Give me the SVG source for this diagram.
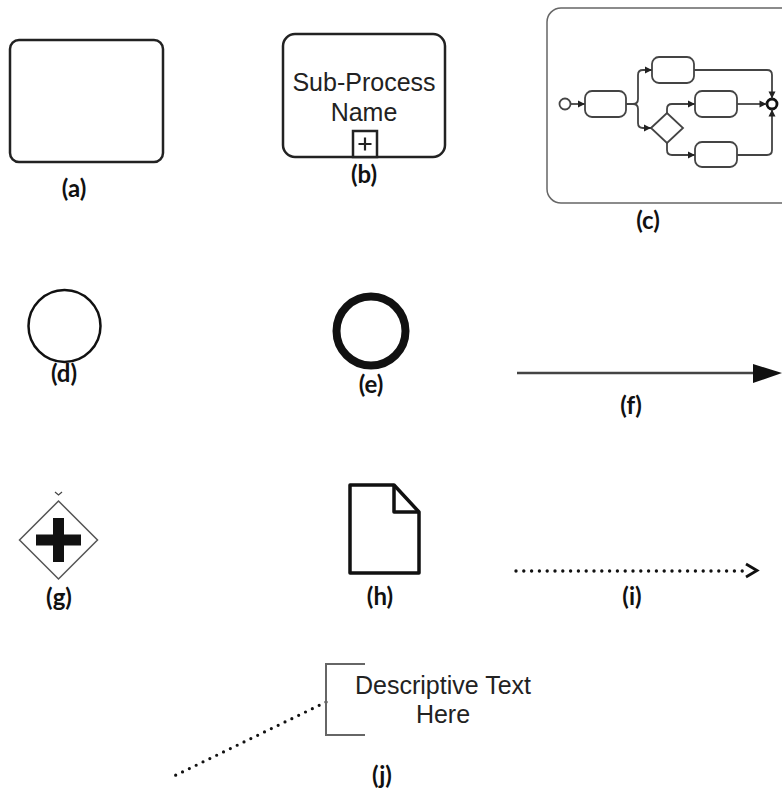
<svg xmlns="http://www.w3.org/2000/svg" width="782" height="795" viewBox="0 0 782 795">
<style>
.lbl{font-family:Lato,"Open Sans",sans-serif;font-weight:700;font-size:24px;fill:#111;text-anchor:middle}
.txt{font-family:"Liberation Sans",Arial,sans-serif;font-size:25px;fill:#222;text-anchor:middle}
.mini{fill:#fff;stroke:#444;stroke-width:1.8}
.flow{fill:none;stroke:#444;stroke-width:1.8}
</style>
<defs>
<marker id="ah" markerUnits="userSpaceOnUse" markerWidth="9" markerHeight="9" viewBox="0 0 9 9" refX="8" refY="4.5" orient="auto">
<path d="M1,1 L8,4.5 L1,8 Z" fill="#222"/>
</marker>
</defs>
<rect width="782" height="795" fill="#fff"/>

<g id="a">
<rect x="10" y="40" width="153" height="122" rx="9" fill="#fff" stroke="#222" stroke-width="2.5"/>
<text class="lbl" x="74" y="197">(a)</text>
</g>

<g id="b">
<rect x="283" y="34" width="162" height="123" rx="12" fill="#fff" stroke="#222" stroke-width="2.5"/>
<text class="txt" x="364" y="91">Sub-Process</text>
<text class="txt" x="364" y="121">Name</text>
<rect x="353" y="131" width="24" height="26" fill="#fff" stroke="#222" stroke-width="2.5"/>
<path d="M358.5,144 H371.5 M365,137.5 V150.5" stroke="#222" stroke-width="2.2"/>
<text class="lbl" x="364" y="183">(b)</text>
</g>

<g id="c">
<rect x="547" y="8" width="250" height="195" rx="14" fill="#fff" stroke="#666" stroke-width="1.5"/>
<circle cx="565" cy="104" r="5.5" class="mini"/>
<rect x="585" y="91" width="41" height="26" rx="7" class="mini"/>
<rect x="652" y="57" width="42" height="26" rx="7" class="mini"/>
<rect x="695" y="91" width="42" height="26" rx="7" class="mini"/>
<rect x="695" y="142" width="42" height="25" rx="7" class="mini"/>
<polygon points="651,128 667,113 683,128 667,143" class="mini"/>
<circle cx="772" cy="104" r="5" fill="#fff" stroke="#111" stroke-width="2.8"/>
<g class="flow">
<path d="M571,104 H585" marker-end="url(#ah)"/>
<path d="M626,104 H633 Q638,104 638,99 V75 Q638,70 643,70 H652" marker-end="url(#ah)"/>
<path d="M626,104 H633 Q638,104 638,109 V123 Q638,128 643,128 H651" marker-end="url(#ah)"/>
<path d="M667,113 V109 Q667,104 672,104 H695" marker-end="url(#ah)"/>
<path d="M667,143 V150 Q667,155 672,155 H695" marker-end="url(#ah)"/>
<path d="M694,70 H767 Q772,70 772,75 V98.5" marker-end="url(#ah)"/>
<path d="M737,104 H766.5" marker-end="url(#ah)"/>
<path d="M737,155 H767 Q772,155 772,150 V109.5" marker-end="url(#ah)"/>
</g>
<text class="lbl" x="648" y="229">(c)</text>
</g>

<g id="d">
<circle cx="64.5" cy="326" r="36" fill="#fff" stroke="#111" stroke-width="2.5"/>
<text class="lbl" x="64" y="382">(d)</text>
</g>

<g id="e">
<circle cx="371" cy="331" r="34.5" fill="#fff" stroke="#111" stroke-width="8"/>
<text class="lbl" x="371" y="393">(e)</text>
</g>

<g id="f">
<path d="M517,373 H756" stroke="#444" stroke-width="2.5"/>
<polygon points="753,364 782,373 753,383" fill="#111"/>
<text class="lbl" x="631" y="414">(f)</text>
</g>

<g id="g">
<path d="M55,492 L58.5,495 L62,492" fill="none" stroke="#444" stroke-width="1.2"/>
<polygon points="19.5,540 58.5,501 97.5,540 58.5,579" fill="#fff" stroke="#555" stroke-width="1.5"/>
<path d="M36,540 H81 M58.5,518 V562" stroke="#111" stroke-width="11"/>
<text class="lbl" x="59" y="606">(g)</text>
</g>

<g id="h">
<path d="M350,485 H394 L419,512 V573 H350 Z" fill="#fff" stroke="#111" stroke-width="3.5" stroke-linejoin="round"/>
<path d="M394,485 V512 H419" fill="none" stroke="#111" stroke-width="3.5" stroke-linejoin="round"/>
<text class="lbl" x="380" y="605">(h)</text>
</g>

<g id="connectors">
<path d="M516,571 H744" stroke="#111" stroke-width="3.4" stroke-linecap="round" stroke-dasharray="0 7.8"/>
<path d="M746,564 L757,570.5 L746,577" fill="none" stroke="#111" stroke-width="2.8"/>
<path d="M326,702 L172,777" stroke="#111" stroke-width="3.2" stroke-linecap="round" stroke-dasharray="0 7.6"/>
</g>

<g id="i">
<text class="lbl" x="632" y="605">(i)</text>
</g>

<g id="j">
<path d="M365,664 H326 V735 H365" fill="none" stroke="#666" stroke-width="2"/>
<text class="txt" x="443" y="694">Descriptive Text</text>
<text class="txt" x="443" y="723">Here</text>
<text class="lbl" x="382" y="784">(j)</text>
</g>
</svg>
